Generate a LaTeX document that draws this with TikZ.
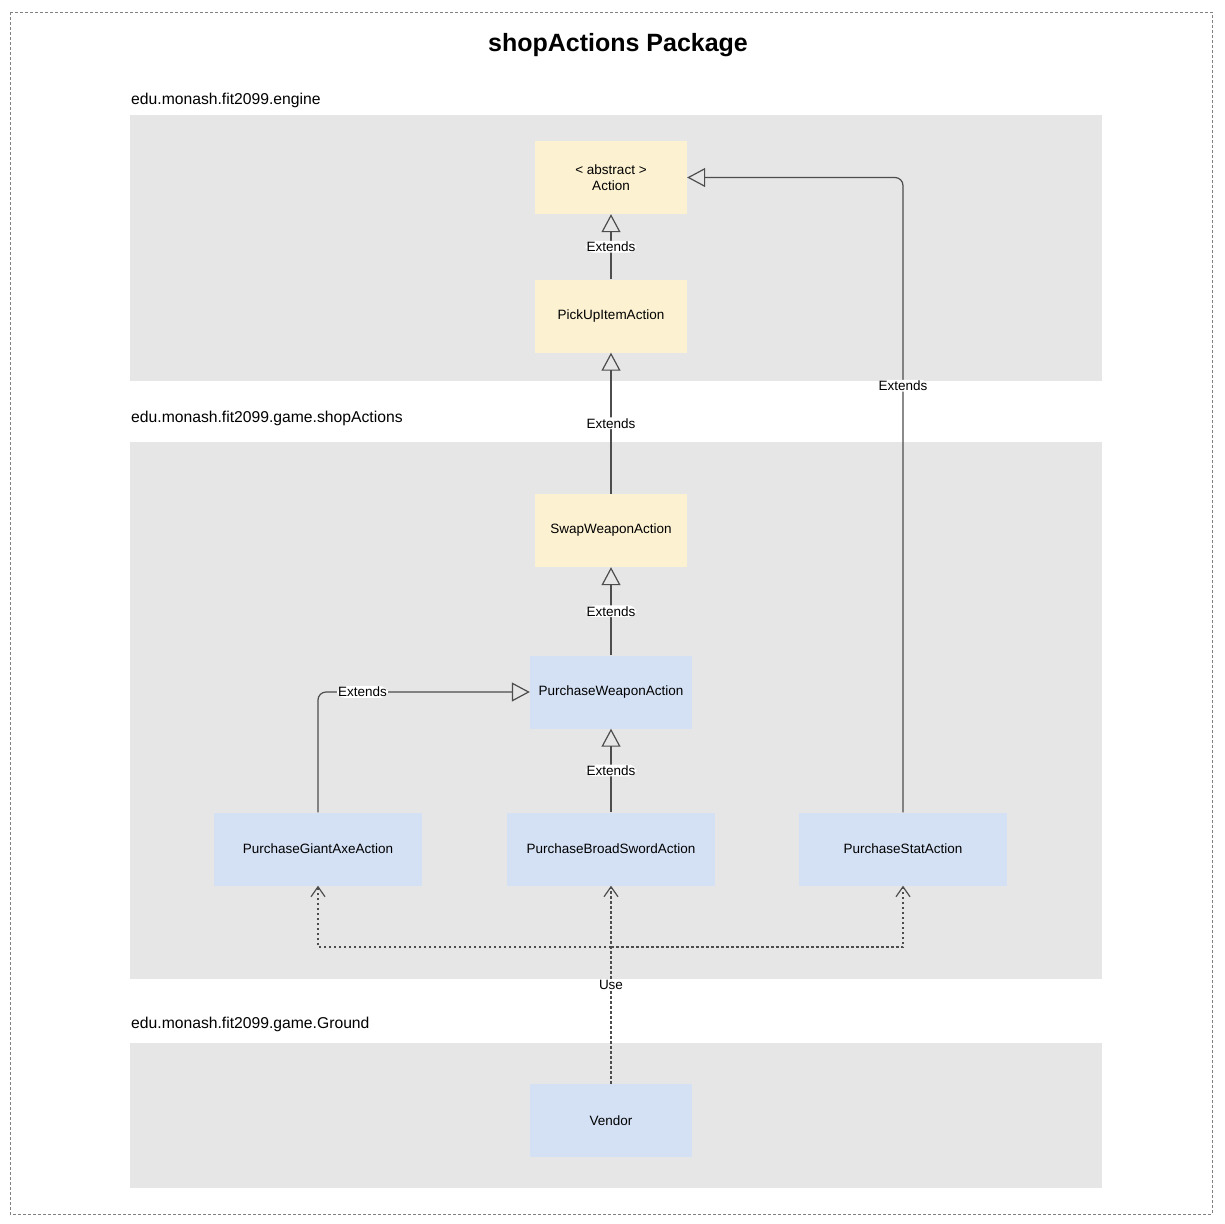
\documentclass[tikz,border=0pt]{standalone}
\usepackage{fontspec}
\setmainfont{Liberation Sans}
\usetikzlibrary{arrows.meta}
\definecolor{pkgbg}{HTML}{E6E6E6}
\definecolor{yel}{HTML}{FCF1D1}
\definecolor{blu}{HTML}{D4E1F5}
\definecolor{ln}{HTML}{4D4D4D}
\tikzset{
  pkg/.style={fill=pkgbg, draw=none},
  pkglabel/.style={anchor=west, inner sep=0pt, font=\fontsize{15.7}{18}\selectfont},
  cls/.style={minimum width=152pt, minimum height=73pt, inner sep=0pt, align=center, font=\fontsize{13.5}{16}\selectfont},
  yelbox/.style={cls, fill=yel},
  blubox/.style={cls, fill=blu},
  ext/.style={draw=ln, line width=1.2pt, rounded corners=8pt, -{Triangle[open, length=18pt, width=19pt, line width=1.2pt]}},
  use/.style={draw=ln, line width=1.2pt, dash pattern=on 2.5pt off 2.5pt, -{Straight Barb[length=10pt, width=14pt, line width=1.2pt]}},
  lbl/.style={fill=white, inner sep=1pt, font=\fontsize{13.5}{15}\selectfont, text=black}
}
\begin{document}
\begin{tikzpicture}[x=1pt, y=-1pt]
\useasboundingbox (0,0) rectangle (1224,1224);
\fill[white] (0,0) rectangle (1224,1224);
\draw[gray, line width=1pt, dash pattern=on 3pt off 2pt] (10,12) rectangle (1212,1214);
\node[font=\bfseries\fontsize{25}{30}\selectfont] (title) at (618,45) {shopActions Package};

% packages
\fill[pkg] (130,115) rectangle (1102,381);
\fill[pkg] (130,442) rectangle (1102,979);
\fill[pkg] (130,1043) rectangle (1102,1188);
\node[pkglabel] (p1) at (131,100) {edu.monash.fit2099.engine};
\node[pkglabel] (p2) at (131,418) {edu.monash.fit2099.game.shopActions};
\node[pkglabel] (p3) at (131,1024) {edu.monash.fit2099.game.Ground};

% classes
\node[yelbox] (action) at (611,177.5) {< abstract >\\Action};
\node[yelbox] (pickup) at (611,316) {PickUpItemAction};
\node[yelbox] (swap) at (611,530.5) {SwapWeaponAction};
\node[blubox, minimum width=162pt] (pw) at (611,692) {PurchaseWeaponAction};
\node[blubox, minimum width=208pt] (giant) at (318,849) {PurchaseGiantAxeAction};
\node[blubox, minimum width=208pt] (bs) at (611,849) {PurchaseBroadSwordAction};
\node[blubox, minimum width=208pt] (stat) at (903,849) {PurchaseStatAction};
\node[blubox, minimum width=162pt] (vendor) at (611,1120.5) {Vendor};

% extends
\draw[ext] (pickup.north) -- (action.south) node[lbl, pos=0.5] {Extends};
\draw[ext] (swap.north) -- (pickup.south) node[lbl, pos=0.5] {Extends};
\draw[ext] (pw.north) -- (swap.south) node[lbl, pos=0.5] {Extends};
\draw[ext] (bs.north) -- (pw.south) node[lbl, pos=0.5] {Extends};
\draw[ext] (giant.north) |- (pw.west) node[lbl, pos=0.605] {Extends};
\draw[ext] (stat.north) |- (action.east) node[lbl, pos=0.336] {Extends};

% use
\coordinate (j) at (611,947);
\draw[use] (vendor.north) -- (bs.south) node[lbl, pos=0.5] {Use};
\draw[use] (j) -| (giant.south);
\draw[use] (j) -| (stat.south);
\end{tikzpicture}
\end{document}
